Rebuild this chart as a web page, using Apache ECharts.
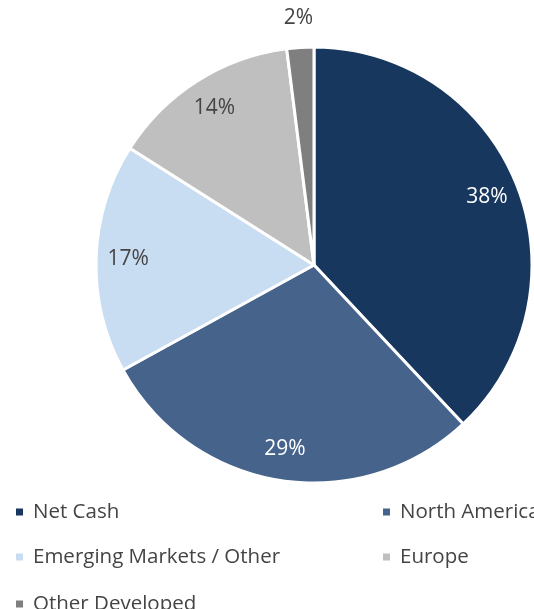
<!DOCTYPE html>
<html>
<head>
<meta charset="utf-8">
<script src="https://cdn.jsdelivr.net/npm/echarts@6/dist/echarts.min.js"></script>
<style>
  html, body { margin: 0; padding: 0; background: #fff; }
  #chart { width: 534px; height: 609px; }
</style>
</head>
<body>
<div id="chart"></div>
<script>
var names = ['Net Cash', 'North America', 'Emerging Markets / Other', 'Europe', 'Other Developed'];
var values = [38, 29, 17, 14, 2];
var colors = ['#17375e', '#45638b', '#c9ddf2', '#bfbfbf', '#7f7f7f'];
var labelColors = ['#ffffff', '#ffffff', '#444444', '#444444', '#444444'];

var FONT = 'Open Sans';
var myChart = echarts.init(document.getElementById('chart'));

var pieData = [];
var labelData = [];
var outsideData = [];
for (var i = 0; i < names.length; i++) {
    pieData.push({ name: names[i], value: values[i], itemStyle: { color: colors[i] } });
    labelData.push({
        name: names[i], value: values[i],
        label: { show: i < 4, color: labelColors[i] }
    });
    outsideData.push({
        name: names[i], value: values[i],
        label: { show: i == 4, color: labelColors[i] }
    });
}

// legend: one per item, two columns
var legendPos = [[14, 501], [381, 501], [14, 546], [381, 546], [14, 593]];
var legends = [];
for (var j = 0; j < names.length; j++) {
    legends.push({
        left: legendPos[j][0], top: legendPos[j][1],
        icon: 'rect', itemWidth: 9, itemHeight: 9, padding: 0,
        textStyle: { fontFamily: FONT, fontSize: 20.5, color: '#444444', lineHeight: 22, padding: [0, 0, 0, 4] },
        selectedMode: false,
        data: [names[j]]
    });
}

var center = [314, 265];
var option = {
    animation: false,
    legend: legends,
    series: [
        {
            type: 'pie', center: center, radius: 218,
            startAngle: 90, clockwise: true,
            itemStyle: { borderColor: '#fff', borderWidth: 3 },
            label: { show: false }, labelLine: { show: false },
            emphasis: { disabled: true },
            data: pieData
        },
        {
            type: 'pie', center: center, radius: [148, 218],
            startAngle: 90, clockwise: true, silent: true,
            itemStyle: { color: 'transparent' },
            label: { position: 'inside', fontFamily: FONT, fontSize: 21, formatter: '{c}%' },
            labelLine: { show: false },
            emphasis: { disabled: true },
            data: labelData
        },
        {
            type: 'pie', center: center, radius: [237, 251],
            startAngle: 90, clockwise: true, silent: true,
            itemStyle: { color: 'transparent' },
            label: { position: 'inside', fontFamily: FONT, fontSize: 21, formatter: '{c}%' },
            labelLine: { show: false },
            emphasis: { disabled: true },
            data: outsideData
        }
    ]
};

myChart.setOption(option);
</script>
</body>
</html>
